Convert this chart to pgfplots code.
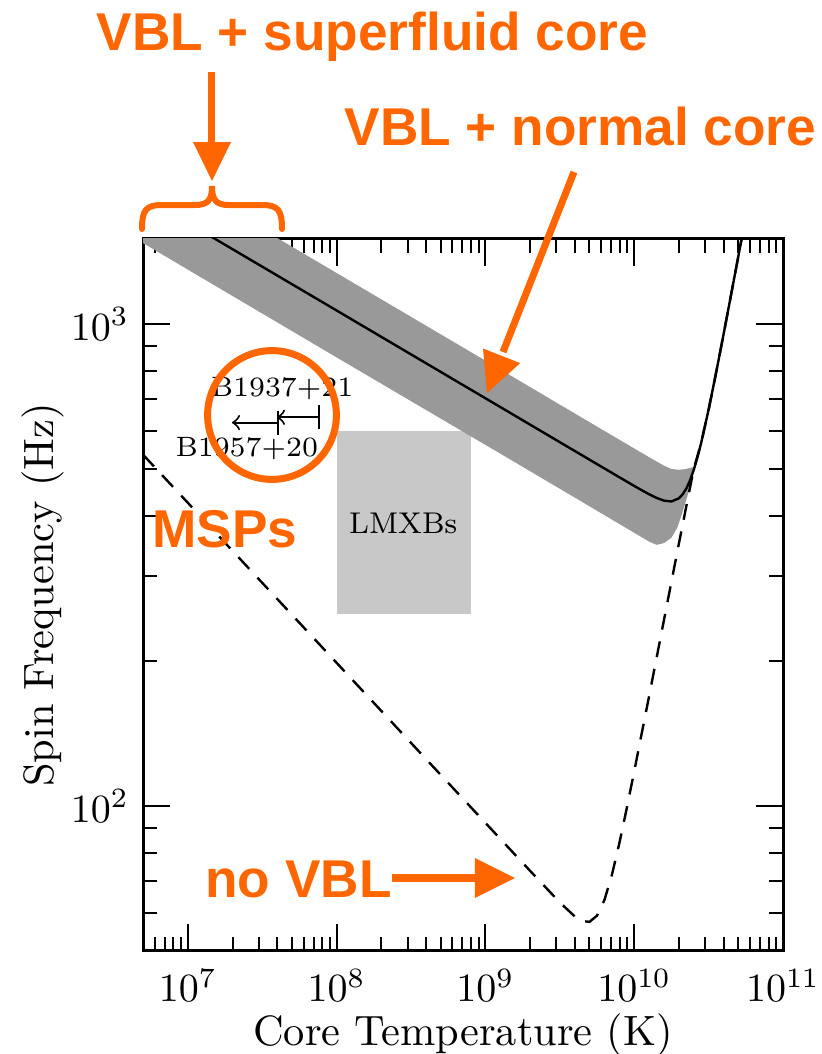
\documentclass[border=0pt]{standalone}
\usepackage{fontspec}
\usepackage{pgfplots}
\pgfplotsset{compat=1.18}
\newfontfamily\orfont{Liberation Sans}
\definecolor{orng}{RGB}{255,102,0}
\definecolor{bandgray}{RGB}{153,153,153}
\definecolor{boxgray}{RGB}{200,200,200}
\begin{document}
\begin{tikzpicture}
\useasboundingbox (-35.75pt,-25.75pt) rectangle (169.75pt,237.75pt);
\begin{axis}[
  scale only axis, width=160pt, height=178pt,
  xmode=log, ymode=log,
  xmin=5e6, xmax=1e11, ymin=50, ymax=1500,
  xtick={1e7,1e8,1e9,1e10,1e11},
  minor xtick={6e6,7e6,8e6,9e6,
    2e7,3e7,4e7,5e7,6e7,7e7,8e7,9e7,
    2e8,3e8,4e8,5e8,6e8,7e8,8e8,9e8,
    2e9,3e9,4e9,5e9,6e9,7e9,8e9,9e9,
    2e10,3e10,4e10,5e10,6e10,7e10,8e10,9e10},
  ytick={100,1000},
  minor ytick={60,70,80,90,200,300,400,500,600,700,800,900},
  axis line style={line width=0.75pt},
  tick style={line width=0.5pt, black},
  major tick length=6.75pt,
  minor tick length=3.4pt,
  tick label style={font=\fontsize{10.4}{12}\selectfont},
  xticklabel style={anchor=base, yshift=-12.75pt},
  label style={font=\fontsize{10.6}{12}\selectfont},
  xlabel={Core Temperature (K)},
  ylabel={Spin Frequency (Hz)},
  xlabel style={at={(axis description cs:0.5,-0.1334)}, anchor=base},
  ylabel style={at={(axis description cs:-0.1406,0.5)}, anchor=base},
  clip=true,
]
% LMXB box
\addplot[fill=boxgray, draw=none] coordinates {(1e8,250) (8e8,250) (8e8,600) (1e8,600)} -- cycle;
% VBL band
\addplot[fill=bandgray, draw=none] coordinates {
 (5e6,2200) (1e8,1275) (1e9,839) (3.162e9,680) (7.943e9,575) (1.259e10,529)
 (1.585e10,508) (1.778e10,500) (1.995e10,498) (2.239e10,500) (2.455e10,504) (2.541e10,504)
 (2.427e10,470) (2.291e10,442) (2.123e10,409) (1.950e10,378) (1.778e10,360)
 (1.585e10,351) (1.413e10,348) (1.259e10,353.5)
 (3.162e9,455) (1e9,561) (1e8,852) (1e7,1296) (5e6,1471)
} -- cycle;
% no VBL (dashed)
\addplot[black, line width=0.6pt, dash pattern=on 4pt off 3pt] coordinates {
 (5e6,535.4) (1e7,425.5) (3.162e7,290.3) (1e8,198.1) (3.162e8,135.1) (1e9,92.2)
 (2e9,73.3) (3.162e9,63.06) (3.981e9,59.0) (4.467e9,57.68) (5.012e9,57.48)
 (5.623e9,59.2) (6.310e9,63.8) (7.079e9,71.9) (7.943e9,83.6) (8.913e9,98.9)
 (1e10,117.9) (1.259e10,168.9) (1.585e10,243.0) (1.995e10,349.6) (2.512e10,500)
 (2.818e10,566.2) (3.162e10,663.7) (3.548e10,790.7) (3.981e10,949.5)
 (4.467e10,1145) (5.012e10,1382) (5.623e10,1671)
};
% VBL + normal core (solid)
\addplot[black, line width=0.6pt] coordinates {
 (1.259e7,1554) (1e8,1066) (1e9,701) (3.981e9,545) (6.310e9,501.2) (7.943e9,480.7)
 (1e10,461.1) (1.122e10,451.9) (1.259e10,443.1) (1.413e10,435.5) (1.585e10,429.8)
 (1.778e10,428.1) (1.995e10,434.5) (2.113e10,442.7) (2.239e10,455.2) (2.371e10,473.3)
 (2.512e10,497.6) (2.661e10,528.4) (2.818e10,566.2) (3.162e10,663.7) (3.548e10,790.7)
 (3.981e10,949.5) (4.467e10,1145) (5.012e10,1382) (5.623e10,1671)
};
% MSP upper limits
\addplot[black, line width=0.5pt, |->] coordinates {(7.74e7,640) (3.97e7,640)};
\addplot[black, line width=0.5pt, |->] coordinates {(4.1e7,624) (1.98e7,624)};
\node[font=\fontsize{7}{8}\selectfont, inner sep=0] at (axis cs:4.3e7,735) {B1937+21};
\node[font=\fontsize{7}{8}\selectfont, inner sep=0] at (axis cs:2.49e7,552) {B1957+20};
\node[font=\fontsize{7.5}{9}\selectfont, inner sep=0] at (axis cs:2.8e8,386) {LMXBs};
\end{axis}
\begin{scope}[x=0.25pt, y=-0.25pt, shift={(-35.75pt,237.75pt)}]
\tikzset{ot/.style={text=orng, anchor=base, inner sep=0, font=\orfont\bfseries\fontsize{13.3}{15}\selectfont}}
\node[ot] at (372.5,50) {VBL + superfluid core};
\node[ot] at (580.5,145) {VBL + normal core};
\node[ot] at (225,547) {MSPs};
\node[ot] at (298.5,898) {no VBL};
% superfluid arrow
\draw[orng, line width=1.75pt] (212,72) -- (212,146);
\fill[orng] (193,142) -- (231,142) -- (212,181) -- cycle;
% brace
\draw[orng, line width=1.5pt, line cap=round] (142,229) .. controls (142,210) and (146,205) .. (162,205) -- (195,205) .. controls (208,205) and (212,200) .. (212,186) .. controls (212,200) and (216,205) .. (229,205) -- (262,205) .. controls (278,205) and (282,210) .. (282,229);
% normal core arrow
\draw[orng, line width=1.75pt] (574,172) -- (503,352);
\fill[orng] (520.2,363.1) -- (483.0,348.5) -- (487,393) -- cycle;
% no VBL arrow
\draw[orng, line width=2pt] (392,878) -- (478,878);
\fill[orng] (475,858) -- (475,898) -- (515,878) -- cycle;
% circle
\draw[orng, line width=1.75pt] (272,415) circle [radius=16.1pt];
\end{scope}
\end{tikzpicture}
\end{document}
